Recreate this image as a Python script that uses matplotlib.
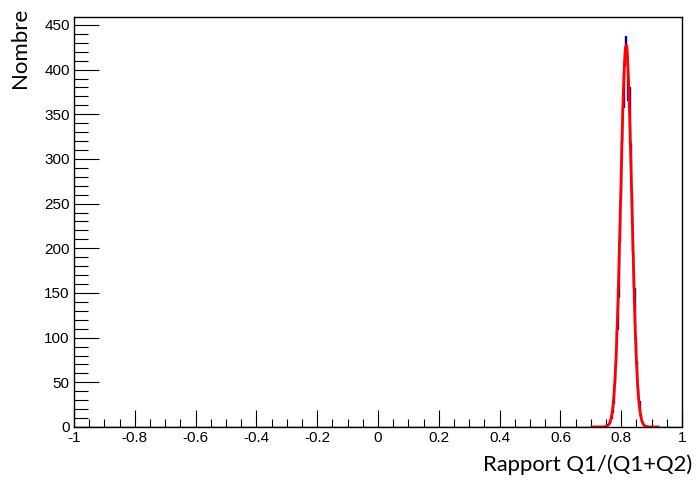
import numpy as np
import matplotlib
matplotlib.use("Agg")
import matplotlib.pyplot as plt
from matplotlib.ticker import MultipleLocator

# Histogram data (bin width 0.004 over [-1, 1]); only non-empty region listed
bin_centers = [0.742, 0.746, 0.750, 0.754, 0.758, 0.762, 0.766, 0.770, 0.774, 0.778,
               0.782, 0.786, 0.790, 0.794, 0.798, 0.802, 0.806, 0.810, 0.814, 0.818,
               0.822, 0.826, 0.830, 0.834, 0.838, 0.842, 0.846, 0.850, 0.854, 0.858,
               0.862, 0.866, 0.870, 0.874, 0.878, 0.882, 0.886]
counts = [0, 1, 1, 2, 3, 5, 10, 17, 27, 49,
          70, 110, 146, 208, 255, 320, 358, 405, 438, 428,
          366, 380, 318, 262, 196, 155, 101, 74, 44, 29,
          15, 8, 5, 2, 1, 1, 0]

# Gaussian fit parameters
fit_amp = 427.0
fit_mean = 0.816
fit_sigma = 0.0180
fit_range = (0.703, 0.921)

x_ticks = [-1, -0.8, -0.6, -0.4, -0.2, 0, 0.2, 0.4, 0.6, 0.8, 1]
x_ticklabels = ["-1", "-0.8", "-0.6", "-0.4", "-0.2", "0", "0.2", "0.4", "0.6", "0.8", "1"]
y_ticks = [0, 50, 100, 150, 200, 250, 300, 350, 400, 450]

nbins = 500
edges = np.linspace(-1, 1, nbins + 1)
full = np.zeros(nbins)
for c, v in zip(bin_centers, counts):
    idx = int(np.floor((c + 1) / 0.004))
    full[idx] = v

fig = plt.figure(figsize=(6.96, 4.83), dpi=100)
ax = fig.add_axes([0.1063, 0.116, 0.8737, 0.849])

ax.stairs(full, edges, color="#000099", linewidth=1.0)
xf = np.linspace(fit_range[0], fit_range[1], 600)
yf = fit_amp * np.exp(-0.5 * ((xf - fit_mean) / fit_sigma) ** 2)
ax.plot(xf, yf, color="#ff0000", linewidth=2.0)

ax.set_xlim(-1, 1)
ax.set_ylim(0, 459)
ax.set_xticks(x_ticks)
ax.set_xticklabels(x_ticklabels)
ax.set_yticks(y_ticks)
ax.xaxis.set_minor_locator(MultipleLocator(0.05))
ax.yaxis.set_minor_locator(MultipleLocator(10))
ax.tick_params(axis="both", which="both", direction="in", top=False, right=False)
ax.tick_params(axis="x", which="major", length=12, width=0.8, pad=3.2)
ax.tick_params(axis="x", which="minor", length=6, width=0.8)
ax.tick_params(axis="y", which="major", length=18, width=0.8, pad=3)
ax.tick_params(axis="y", which="minor", length=10, width=0.8)
for lab in ax.get_xticklabels() + ax.get_yticklabels():
    lab.set_fontfamily("Liberation Sans")
    lab.set_fontsize(11)
for s in ax.spines.values():
    s.set_linewidth(1.0)

fig.text(0.994, 0.016, "Rapport Q1/(Q1+Q2)", ha="right", va="bottom",
         fontsize=15.8, family="Lato")
fig.text(0.015, 0.984, "Nombre", ha="left", va="top", rotation=90,
         fontsize=16, family="Lato")

fig.savefig("out.png", dpi=100)
